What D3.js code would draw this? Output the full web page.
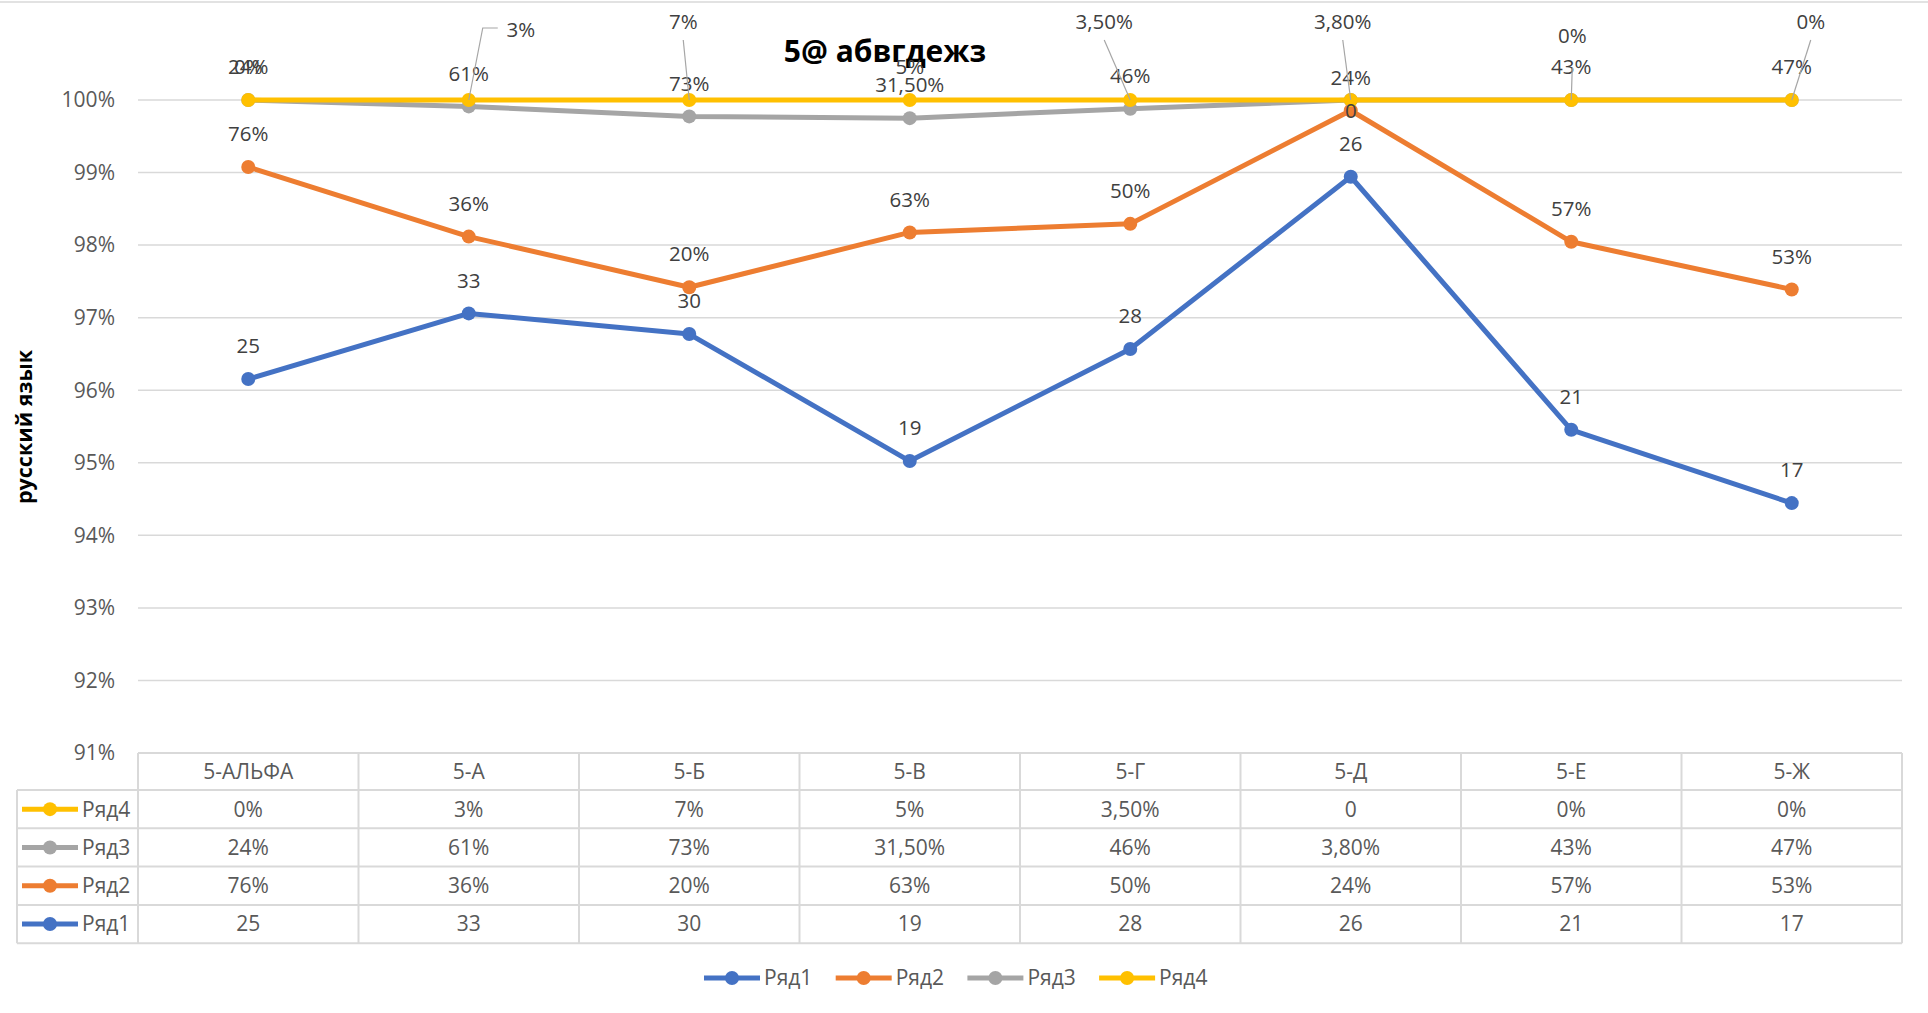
<!DOCTYPE html>
<html>
<head>
<meta charset="utf-8">
<script src="https://cdn.jsdelivr.net/npm/d3@7"></script>
<style>
  body { margin: 0; background: #fff; }
  svg { display: block; font-family: "Open Sans", sans-serif; }
</style>
</head>
<body>
<script>
// Data
const categories = ["5-АЛЬФА", "5-А", "5-Б", "5-В", "5-Г", "5-Д", "5-Е", "5-Ж"];
const seriesNames = ["Ряд1", "Ряд2", "Ряд3", "Ряд4"];
const ryad1 = [25, 33, 30, 19, 28, 26, 21, 17];
const ryad2 = [0.76, 0.36, 0.20, 0.63, 0.50, 0.24, 0.57, 0.53];
const ryad3 = [0.24, 0.61, 0.73, 0.315, 0.46, 0.038, 0.43, 0.47];
const ryad4 = [0, 0.03, 0.07, 0.05, 0.035, 0, 0, 0];
// texts as shown in the data table / labels
const ryad1Text = ["25", "33", "30", "19", "28", "26", "21", "17"];
const ryad2Text = ["76%", "36%", "20%", "63%", "50%", "24%", "57%", "53%"];
const ryad3Text = ["24%", "61%", "73%", "31,50%", "46%", "3,80%", "43%", "47%"];
const ryad4Text = ["0%", "3%", "7%", "5%", "3,50%", "0", "0%", "0%"];
const yTicks = [0.91, 0.92, 0.93, 0.94, 0.95, 0.96, 0.97, 0.98, 0.99, 1.00];

const colors = ["#4472C4", "#ED7D31", "#A5A5A5", "#FFC000"];
const texts = [ryad1Text, ryad2Text, ryad3Text, ryad4Text];

// labels that were dragged by hand in the original (offset from the point, px)
const movedLabels = [
  { s: 3, i: 1, dx: 52, dy: -70, leader: "elbow" },
  { s: 3, i: 2, dx: -6, dy: -78, leader: "line", ly: 18 },
  { s: 3, i: 4, dx: -26, dy: -78, leader: "line", ly: 18 },
  { s: 3, i: 5, dx: 0, dy: 11, leader: "none" },
  { s: 3, i: 6, dx: 1, dy: -64, leader: "line", ly: 32 },
  { s: 3, i: 7, dx: 19, dy: -78, leader: "line", ly: 18 },
  { s: 2, i: 5, dx: -8, dy: -78, leader: "line", ly: 18 },
];

const width = 1928, height = 1013;
const plotLeft = 138, plotRight = 1902, plotTop = 100, plotBottom = 753;
const headerH = 37, rowH = 38.3, tableLeft = 17;
const fs = 21;

const svg = d3.select("body").append("svg")
  .attr("width", width)
  .attr("height", height);

// chart border top
svg.append("line")
  .attr("x1", 0).attr("x2", width).attr("y1", 2).attr("y2", 2)
  .attr("stroke", "#d9d9d9").attr("stroke-width", 1.5);

// 100% stacked values
const rows = categories.map((c, i) => ({ cat: c, "Ряд1": ryad1[i], "Ряд2": ryad2[i], "Ряд3": ryad3[i], "Ряд4": ryad4[i] }));
const stacked = d3.stack().keys(seriesNames).offset(d3.stackOffsetExpand)(rows);

const x = d3.scaleBand().domain(categories).range([plotLeft, plotRight]);
const cx = c => x(c) + x.bandwidth() / 2;
const y = d3.scaleLinear().domain([0.91, 1.0]).range([plotBottom, plotTop]);

// gridlines
svg.append("g")
  .selectAll("line")
  .data(yTicks.slice(1))
  .join("line")
  .attr("x1", plotLeft).attr("x2", plotRight)
  .attr("y1", d => y(d)).attr("y2", d => y(d))
  .attr("stroke", "#d9d9d9").attr("stroke-width", 1.5);

// y axis labels
svg.append("g")
  .selectAll("text")
  .data(yTicks)
  .join("text")
  .attr("x", 115)
  .attr("y", d => y(d))
  .attr("dy", "0.35em")
  .attr("text-anchor", "end")
  .attr("font-size", fs)
  .attr("fill", "#595959")
  .text(d => d3.format(".0%")(d));

// y axis title
svg.append("text")
  .attr("transform", "translate(32,427) rotate(-90)")
  .attr("text-anchor", "middle")
  .attr("font-size", 21.5)
  .attr("font-weight", "bold")
  .attr("fill", "#000")
  .text("русский язык");

// title
svg.append("text")
  .attr("x", 885).attr("y", 62)
  .attr("text-anchor", "middle")
  .attr("font-size", 30)
  .attr("font-weight", "bold")
  .attr("fill", "#000")
  .text("5@ абвгдежз");

// lines + markers
const line = d3.line()
  .x(d => cx(d.data.cat))
  .y(d => y(d[1]));

stacked.forEach((s, k) => {
  const g = svg.append("g");
  g.append("path")
    .datum(s)
    .attr("d", line)
    .attr("fill", "none")
    .attr("stroke", colors[k])
    .attr("stroke-width", 5)
    .attr("stroke-linejoin", "round");
  g.selectAll("circle")
    .data(s)
    .join("circle")
    .attr("cx", d => cx(d.data.cat))
    .attr("cy", d => y(d[1]))
    .attr("r", 7)
    .attr("fill", colors[k]);
});

// data labels
const labelG = svg.append("g");
stacked.forEach((s, k) => {
  s.forEach((d, i) => {
    const px = cx(d.data.cat), py = y(d[1]);
    const m = movedLabels.find(o => o.s === k && o.i === i);
    const lx = px + (m ? m.dx : 0);
    const ly = py + (m ? m.dy : -33);
    if (m && m.leader === "line") {
      labelG.append("line")
        .attr("x1", px).attr("y1", py)
        .attr("x2", lx).attr("y2", ly + m.ly)
        .attr("stroke", "#a6a6a6").attr("stroke-width", 1.2);
    }
    if (m && m.leader === "elbow") {
      labelG.append("polyline")
        .attr("points", [[px, py], [lx - 38, ly - 2], [lx - 23, ly - 2]].join(" "))
        .attr("fill", "none")
        .attr("stroke", "#a6a6a6").attr("stroke-width", 1.2);
    }
    labelG.append("text")
      .attr("x", lx).attr("y", ly)
      .attr("dy", "0.35em")
      .attr("text-anchor", "middle")
      .attr("font-size", 20.5)
      .attr("fill", "#404040")
      .text(texts[k][i]);
  });
});

// data table
const table = svg.append("g");
const tableRows = [3, 2, 1, 0]; // Ряд4 on top
const bodyTop = plotBottom + headerH;
const tableBottom = bodyTop + rowH * tableRows.length;

// header texts
table.selectAll("text.cat")
  .data(categories)
  .join("text")
  .attr("class", "cat")
  .attr("x", d => cx(d))
  .attr("y", plotBottom + headerH / 2)
  .attr("dy", "0.35em")
  .attr("text-anchor", "middle")
  .attr("font-size", fs)
  .attr("fill", "#595959")
  .text(d => d);

tableRows.forEach((k, r) => {
  const ry = bodyTop + r * rowH + rowH / 2;
  // legend key
  table.append("line")
    .attr("x1", 22).attr("x2", 78).attr("y1", ry).attr("y2", ry)
    .attr("stroke", colors[k]).attr("stroke-width", 5);
  table.append("circle")
    .attr("cx", 50).attr("cy", ry).attr("r", 7).attr("fill", colors[k]);
  table.append("text")
    .attr("x", 82).attr("y", ry).attr("dy", "0.35em")
    .attr("font-size", fs).attr("fill", "#595959")
    .text(seriesNames[k]);
  table.selectAll(null)
    .data(texts[k])
    .join("text")
    .attr("x", (d, i) => cx(categories[i]))
    .attr("y", ry)
    .attr("dy", "0.35em")
    .attr("text-anchor", "middle")
    .attr("font-size", fs)
    .attr("fill", "#595959")
    .text(d => d);
});

// table borders
const hLines = [{ y: plotBottom, x1: plotLeft }].concat(
  d3.range(tableRows.length + 1).map(r => ({ y: bodyTop + r * rowH, x1: tableLeft })));
table.selectAll("line.h")
  .data(hLines)
  .join("line")
  .attr("class", "h")
  .attr("x1", d => d.x1).attr("x2", plotRight)
  .attr("y1", d => d.y).attr("y2", d => d.y)
  .attr("stroke", "#d9d9d9").attr("stroke-width", 2);
const vLines = categories.map(c => x(c)).concat([plotRight]);
table.selectAll("line.v")
  .data(vLines)
  .join("line")
  .attr("class", "v")
  .attr("x1", d => d).attr("x2", d => d)
  .attr("y1", plotBottom).attr("y2", tableBottom)
  .attr("stroke", "#d9d9d9").attr("stroke-width", 2);
table.append("line")
  .attr("x1", tableLeft).attr("x2", tableLeft)
  .attr("y1", bodyTop).attr("y2", tableBottom)
  .attr("stroke", "#d9d9d9").attr("stroke-width", 2);

// legend
const legend = svg.append("g").attr("transform", "translate(704,978)");
const item = legend.selectAll("g")
  .data(seriesNames)
  .join("g")
  .attr("transform", (d, i) => `translate(${i * 131.7},0)`);
item.append("line")
  .attr("x1", 0).attr("x2", 56)
  .attr("stroke", (d, i) => colors[i]).attr("stroke-width", 5);
item.append("circle")
  .attr("cx", 28).attr("r", 7)
  .attr("fill", (d, i) => colors[i]);
item.append("text")
  .attr("x", 60).attr("dy", "0.35em")
  .attr("font-size", fs).attr("fill", "#595959")
  .text(d => d);
</script>
</body>
</html>
